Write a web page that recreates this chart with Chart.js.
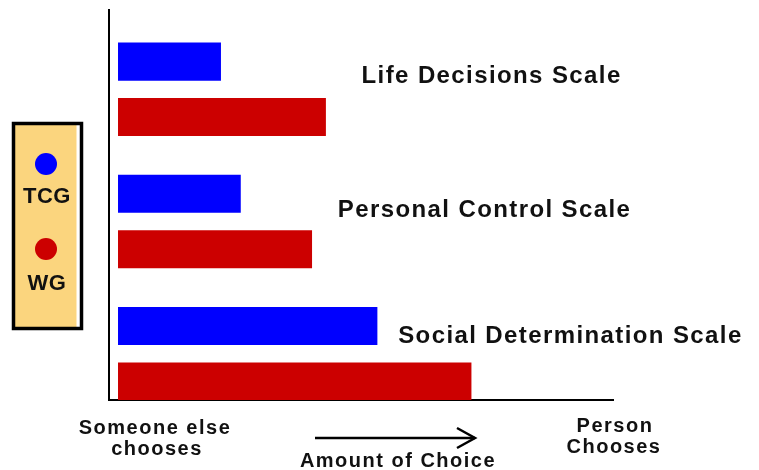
<!DOCTYPE html>
<html><head><meta charset="utf-8">
<script src="https://cdn.jsdelivr.net/npm/chart.js@4.4.1/dist/chart.umd.min.js"></script>
<style>html,body{margin:0;padding:0;background:#fff;}#wrap{width:759px;height:470px;}</style>
</head><body><div id="wrap"><canvas id="c" width="759" height="470"></canvas></div>
<script>
// ---- data ----
const categories = ['Life Decisions Scale', 'Personal Control Scale', 'Social Determination Scale'];
const seriesNames = ['TCG', 'WG'];
const tcgValues = [20.8, 24.8, 52.4];
const wgValues = [42.0, 39.2, 71.4];
const axisLeftLabel = ['Someone else', 'chooses'];
const axisRightLabel = ['Person', 'Chooses'];
const axisTitle = 'Amount of Choice';

// ---- styles / placement ----
const seriesColors = ['#0000FF', '#CC0000'];
const FONT = '"Liberation Sans", Arial, Helvetica, sans-serif';
// label anchors in scale units (x value, y offset from group index)
const labelAnchors = [{x: 49.2, dy: -0.046}, {x: 44.4, dy: -0.036}, {x: 56.6, dy: -0.079}];

const groupIndex = categories.map((_, i) => i);

const decorPlugin = {
  id: 'decor',
  afterDraw(chart) {
    const ctx = chart.ctx;
    const xs = chart.scales.x, ys = chart.scales.y;
    const ca = chart.chartArea;
    ctx.save();
    ctx.fillStyle = '#111';
    ctx.textBaseline = 'alphabetic';
    // category labels beside bars
    ctx.font = 'bold 24px ' + FONT;
    try { ctx.letterSpacing = '1.4px'; } catch (e) {}
    ctx.textAlign = 'left';
    categories.forEach((c, i) => {
      const a = labelAnchors[i];
      ctx.fillText(c, xs.getPixelForValue(a.x), ys.getPixelForValue(i + a.dy));
    });
    // bottom labels
    ctx.font = 'bold 20px ' + FONT;
    try { ctx.letterSpacing = '1.5px'; } catch (e) {}
    ctx.textAlign = 'center';
    ctx.fillText(axisLeftLabel[0], ca.left + 46, ca.bottom + 34);
    ctx.fillText(axisLeftLabel[1], ca.left + 48, ca.bottom + 55);
    ctx.fillText(axisRightLabel[0], ca.right + 2, ca.bottom + 32);
    ctx.fillText(axisRightLabel[1], ca.right + 1, ca.bottom + 53);
    ctx.fillText(axisTitle, ca.left + 289, ca.bottom + 67);
    // arrow
    ctx.strokeStyle = '#000';
    ctx.lineWidth = 2.5;
    ctx.beginPath();
    ctx.moveTo(ca.left + 206, ca.bottom + 38);
    ctx.lineTo(ca.left + 366, ca.bottom + 38);
    ctx.stroke();
    ctx.beginPath();
    ctx.moveTo(ca.left + 348, ca.bottom + 28);
    ctx.lineTo(ca.left + 366, ca.bottom + 38);
    ctx.lineTo(ca.left + 348, ca.bottom + 48);
    ctx.stroke();
    // legend box
    const bx = 13.5, by = 123.5, bw = 68, bh = 205;
    ctx.fillStyle = '#FBD57E';
    ctx.fillRect(bx, by, bw, bh);
    ctx.fillStyle = '#fff';
    ctx.fillRect(bx + bw - 5, by, 3.5, bh);
    ctx.strokeStyle = '#000';
    ctx.lineWidth = 3.5;
    ctx.strokeRect(bx, by, bw, bh);
    const items = chart.data.datasets;
    const cy = [164, 249];
    const ty = [203, 290];
    ctx.font = 'bold 22px ' + FONT;
    try { ctx.letterSpacing = '0.5px'; } catch (e) {}
    items.forEach((ds, i) => {
      ctx.fillStyle = ds.backgroundColor;
      ctx.beginPath();
      ctx.arc(46, cy[i], 11, 0, Math.PI * 2);
      ctx.fill();
      ctx.fillStyle = '#111';
      ctx.fillText(ds.label, 47, ty[i]);
    });
    ctx.restore();
  }
};

new Chart(document.getElementById('c'), {
  type: 'bar',
  data: {
    datasets: [
      { label: seriesNames[0], data: tcgValues.map((v, i) => ({x: v, y: groupIndex[i]})), backgroundColor: seriesColors[0], borderWidth: 0 },
      { label: seriesNames[1], data: wgValues.map((v, i) => ({x: v, y: groupIndex[i]})), backgroundColor: seriesColors[1], borderWidth: 0 }
    ]
  },
  options: {
    indexAxis: 'y',
    responsive: false,
    animation: false,
    devicePixelRatio: 1,
    categoryPercentage: 0.838,
    barPercentage: 0.687,
    layout: { padding: { left: 109, top: 10, right: 146, bottom: 70 } },
    plugins: { legend: { display: false }, tooltip: { enabled: false } },
    scales: {
      x: {
        type: 'linear', min: -1.82, max: 100, offset: false,
        grid: { display: false, drawTicks: false, tickLength: 0 },
        ticks: { display: false },
        border: { display: true, color: '#000', width: 2 }
      },
      y: {
        type: 'linear', min: -0.6, max: 2.35, reverse: true, offset: false,
        afterBuildTicks: (s) => { s.ticks = groupIndex.map(v => ({ value: v })); },
        grid: { display: false, drawTicks: false, tickLength: 0 },
        ticks: { display: false },
        border: { display: true, color: '#000', width: 2 }
      }
    }
  },
  plugins: [decorPlugin]
});
</script>
</body></html>
